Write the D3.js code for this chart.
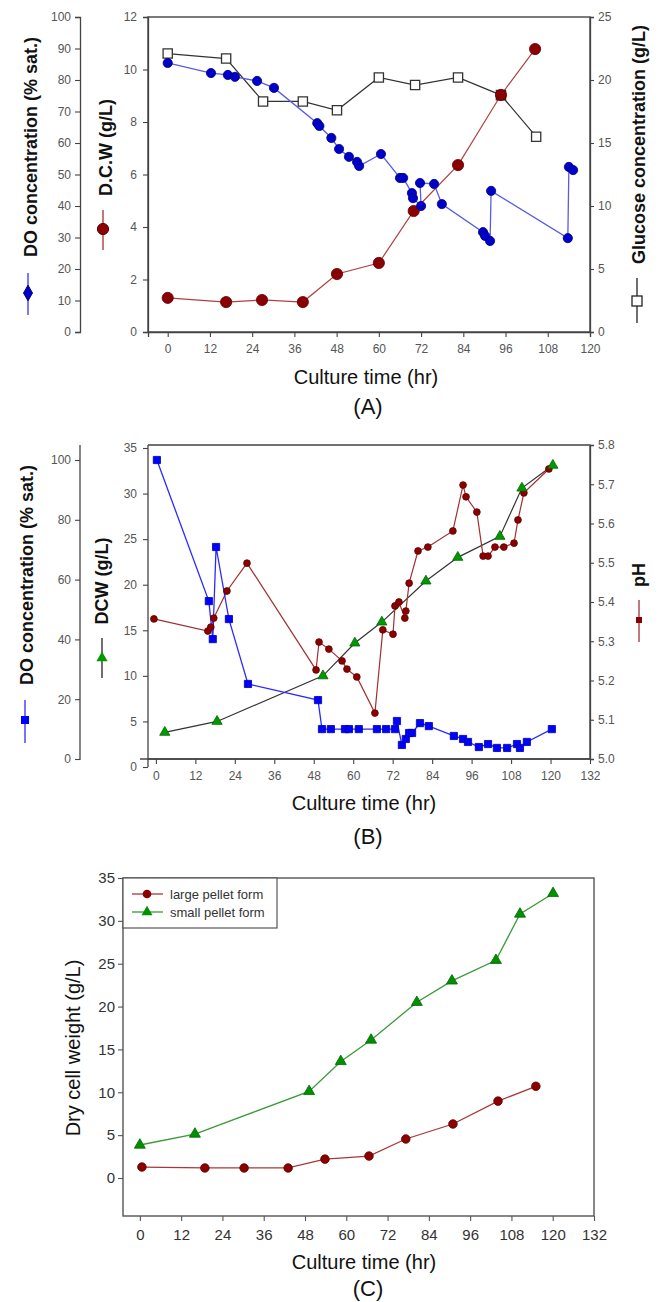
<!DOCTYPE html>
<html><head><meta charset="utf-8">
<script src="https://cdn.jsdelivr.net/npm/d3@7"></script>
<style>body{margin:0;background:#fff} svg{display:block} text{font-family:"Liberation Sans",Arial,sans-serif}</style>
</head><body><svg id="c" width="661" height="1302"></svg>
<script>
// ---------- Panel A data ----------
const aDoTime  = [0,12.3,17.1,19.1,25.4,30.2,42.5,43.1,46.5,48.7,51.5,53.8,54.4,60.6,66.0,66.9,69.4,69.7,72.0,71.7,75.7,77.9,89.6,90.2,91.6,91.9,113.7,114.0,115.2];
const aDoValue = [85.4,82.2,81.6,81.0,79.7,77.5,66.3,65.4,61.6,58.1,55.6,54.0,52.7,56.5,48.9,48.9,44.1,42.5,40.0,47.3,47.0,40.6,31.7,30.5,28.9,44.8,29.8,52.4,51.4];
const aDcwTime  = [0,16.6,26.8,38.4,48.1,60.0,69.9,82.5,94.7,104.4];
const aDcwValue = [1.30,1.14,1.22,1.14,2.21,2.63,4.61,6.36,9.03,10.78];
const aGluTime  = [0,16.6,27.1,38.4,48.1,60.0,70.3,82.5,94.7,104.7];
const aGluValue = [22.1,21.7,18.3,18.3,17.6,20.2,19.6,20.2,18.8,15.5];
const aTimeTicks = [0,12,24,36,48,60,72,84,96,108,120];
const aDoTicks = [0,10,20,30,40,50,60,70,80,90,100];
const aDcwTicks = [0,2,4,6,8,10,12];
const aGluTicks = [0,5,10,15,20,25];

// ---------- Panel B data ----------
const bDoTime  = [0.3,16.1,17.3,18.3,22.2,28.0,49.3,50.5,53.2,57.5,58.7,61.7,67.2,70.0,72.7,73.3,74.8,76.0,77.0,77.9,80.3,83.0,90.6,93.4,94.9,98.2,101.0,103.7,106.8,109.8,110.7,112.8,120.4];
const bDoValue = [100,52.8,40.1,70.9,46.8,25.1,19.7,10,10,10,10,10,10,10,10,12.7,4.7,6.7,8.7,8.7,12,11,7.7,6.7,5.7,4,5,3.7,3.7,5,3.7,5.7,10];
const bPhTime  = [-0.6,15.8,16.7,17.6,21.6,27.7,48.7,49.6,52.6,56.6,58.1,61.1,66.6,69.0,72.1,72.7,73.9,75.7,76.0,77.0,79.7,82.7,90.3,93.4,94.3,97.6,99.5,101.0,103.1,105.8,108.9,110.1,111.9,119.5];
const bPhValue = [5.357,5.326,5.336,5.359,5.428,5.499,5.227,5.298,5.280,5.250,5.229,5.209,5.117,5.329,5.318,5.390,5.400,5.359,5.377,5.448,5.530,5.540,5.581,5.698,5.668,5.629,5.517,5.517,5.540,5.540,5.550,5.609,5.678,5.739];
const bDcwTime  = [2.7,18.6,50.8,60.5,68.7,82.1,91.8,104.6,111.3,120.7];
const bDcwValue = [3.8,5.0,10.0,13.6,15.9,20.4,23.0,25.3,30.6,33.1];
const bTimeTicks = [0,12,24,36,48,60,72,84,96,108,120,132];
const bDoTicks = [0,20,40,60,80,100];
const bDcwTicks = [0,5,10,15,20,25,30,35];
const bPhTicks = [5.0,5.1,5.2,5.3,5.4,5.5,5.6,5.7,5.8];

// ---------- Panel C data ----------
const cLargeTime  = [0.6,18.9,30.3,43.1,53.8,66.6,77.3,91.0,104.1,115.1];
const cLargeValue = [1.28,1.17,1.17,1.17,2.2,2.56,4.55,6.3,8.97,10.7];
const cSmallTime  = [0,16.0,49.2,58.4,67.2,80.5,90.7,103.5,110.5,120.1];
const cSmallValue = [3.85,5.13,10.1,13.6,16.1,20.5,23.0,25.4,30.8,33.2];
const cTimeTicks = [0,12,24,36,48,60,72,84,96,108,120,132];
const cDcwTicks = [0,5,10,15,20,25,30,35];
const cLegend = ["large pellet form","small pellet form"];

const svg = d3.select("#c");
const zip = (t,v) => t.map((x,i)=>[x,v[i]]);

function styleAxis(g, size, color, stroke){
  g.selectAll("path").attr("stroke", stroke||"#444").attr("stroke-width",1.3);
  g.selectAll("line").attr("stroke", stroke||"#444").attr("stroke-width",1.1);
  g.selectAll("text").attr("fill", color).style("font-size", size+"px").style("font-family",'"Liberation Sans",Arial,sans-serif');
}
function vtitle(x, y, txt, size, weight){
  svg.append("text").attr("transform",`translate(${x},${y}) rotate(-90)`)
    .attr("text-anchor","middle").style("font-size",size+"px").style("font-weight",weight).attr("fill","#111").text(txt);
}
function htitle(x, y, txt, size){
  svg.append("text").attr("x",x).attr("y",y).attr("text-anchor","middle").style("font-size",size+"px").attr("fill","#111").text(txt);
}
function line(x,y,data,color,w){
  svg.append("path").datum(data).attr("fill","none").attr("stroke",color).attr("stroke-width",w||1.2)
    .attr("d", d3.line().x(d=>x(d[0])).y(d=>y(d[1])));
}
function circles(x,y,data,r,fill,stroke){
  svg.append("g").selectAll("circle").data(data).join("circle")
   .attr("cx",d=>x(d[0])).attr("cy",d=>y(d[1])).attr("r",r).attr("fill",fill).attr("stroke",stroke).attr("stroke-width",0.8);
}
function symbols(x,y,data,type,size,fill,stroke,sw){
  svg.append("g").selectAll("path").data(data).join("path")
   .attr("transform",d=>`translate(${x(d[0])},${y(d[1])})`)
   .attr("d", d3.symbol().type(type).size(size)()).attr("fill",fill).attr("stroke",stroke).attr("stroke-width",sw||0.8);
}

// ================= Panel A =================
{
  const x = d3.scaleLinear().domain([-5.6,120]).range([148,590]);
  const yDo = d3.scaleLinear().domain([0,100]).range([332,17]);
  const yDcw = d3.scaleLinear().domain([0,12]).range([332,17]);
  const yGlu = d3.scaleLinear().domain([0,25]).range([332,17]);
  svg.append("rect").attr("x",148).attr("y",17).attr("width",442).attr("height",315).attr("fill","none").attr("stroke","#444").attr("stroke-width",1.4);
  styleAxis(svg.append("g").attr("transform","translate(80,0)").call(d3.axisLeft(yDo).tickValues(aDoTicks).tickSizeOuter(0).tickSize(5).tickPadding(4)),12,"#555");
  styleAxis(svg.append("g").attr("transform","translate(148,0)").call(d3.axisLeft(yDcw).tickValues(aDcwTicks).tickSizeOuter(0).tickSize(5).tickPadding(6)),12,"#555");
  styleAxis(svg.append("g").attr("transform","translate(590,0)").call(d3.axisRight(yGlu).tickValues(aGluTicks).tickSizeOuter(0).tickSize(4).tickPadding(4)),12,"#555");
  styleAxis(svg.append("g").attr("transform","translate(0,332)").call(d3.axisBottom(x).tickValues(aTimeTicks).tickSizeOuter(0).tickSize(5).tickPadding(7)),12,"#555");

  line(x,yGlu,zip(aGluTime,aGluValue),"#333",1.2);
  line(x,yDcw,zip(aDcwTime,aDcwValue),"#b04040",1.2);
  line(x,yDo,zip(aDoTime,aDoValue),"#5a5ae6",1.3);
  symbols(x,yGlu,zip(aGluTime,aGluValue),d3.symbolSquare,85,"#fff","#333",1.3);
  circles(x,yDcw,zip(aDcwTime,aDcwValue),5.6,"#8b0000","#5a0000");
  circles(x,yDo,zip(aDoTime,aDoValue),4.6,"#0000cc","#000070");

  vtitle(37,147,"DO concentration (% sat.)",18,"bold");
  svg.append("line").attr("x1",28).attr("x2",28).attr("y1",273).attr("y2",315).attr("stroke","#3333ee").attr("stroke-width",1.3);
  svg.append("path").attr("transform","translate(28,293)").attr("d",d3.symbol().type(d3.symbolDiamond).size(70)()).attr("fill","#0000cc").attr("stroke","#000070");
  vtitle(112,147.5,"D.C.W (g/L)",18,"bold");
  svg.append("line").attr("x1",103).attr("x2",103).attr("y1",210).attr("y2",250).attr("stroke","#a03030").attr("stroke-width",1.3);
  svg.append("circle").attr("cx",103).attr("cy",229).attr("r",5.6).attr("fill","#8b0000").attr("stroke","#5a0000");
  vtitle(645,144.5,"Glucose concentration (g/L)",18,"bold");
  svg.append("line").attr("x1",637).attr("x2",637).attr("y1",278).attr("y2",323).attr("stroke","#222").attr("stroke-width",1.3);
  svg.append("rect").attr("x",632).attr("y",296).attr("width",10).attr("height",10).attr("fill","#fff").attr("stroke","#222").attr("stroke-width",1.3);

  htitle(366,384,"Culture time (hr)",20);
  htitle(368,414,"(A)",22);
}

// ================= Panel B =================
{
  const x = d3.scaleLinear().domain([-2.4,132]).range([148,590]);
  const yDo = d3.scaleLinear().domain([0,100]).range([759,460]);
  const yDcw = d3.scaleLinear().domain([0,35]).range([767,448]);
  const yPh = d3.scaleLinear().domain([5.0,5.8]).range([759,445]);
  svg.append("path").attr("d","M148,445H590V759H148").attr("fill","none").attr("stroke","#444").attr("stroke-width",1.4);
  const gdo = svg.append("g").attr("transform","translate(80,0)").call(d3.axisLeft(yDo).tickValues(bDoTicks).tickSizeOuter(0).tickSize(5).tickPadding(4));
  gdo.select("path").attr("d","M0,445V760");
  styleAxis(gdo,12,"#555");
  const gdc = svg.append("g").attr("transform","translate(148,0)").call(d3.axisLeft(yDcw).tickValues(bDcwTicks).tickSizeOuter(0).tickSize(5).tickPadding(6));
  gdc.select("path").attr("d","M0,445V767");
  styleAxis(gdc,12,"#555");
  styleAxis(svg.append("g").attr("transform","translate(590,0)").call(d3.axisRight(yPh).tickValues(bPhTicks).tickFormat(d3.format(".1f")).tickSizeOuter(0).tickSize(4).tickPadding(4)),12,"#555");
  const gx = svg.append("g").attr("transform","translate(0,759)").call(d3.axisBottom(x).tickValues(bTimeTicks).tickSizeOuter(0).tickSize(5).tickPadding(7));
  gx.select("path").attr("d","M140,0H590");
  styleAxis(gx,12,"#555");

  line(x,yDcw,zip(bDcwTime,bDcwValue),"#333",1.2);
  line(x,yPh,zip(bPhTime,bPhValue),"#a03030",1.2);
  line(x,yDo,zip(bDoTime,bDoValue),"#2a2aff",1.3);
  symbols(x,yDo,zip(bDoTime,bDoValue),d3.symbolSquare,52,"#0000ff","#0000aa");
  circles(x,yPh,zip(bPhTime,bPhValue),3.4,"#8b0000","#600000");
  symbols(x,yDcw,zip(bDcwTime,bDcwValue),d3.symbolTriangle,45,"#009900","#006600");

  vtitle(33,575,"DO concentration (% sat.)",18,"bold");
  svg.append("line").attr("x1",25).attr("x2",25).attr("y1",700).attr("y2",743).attr("stroke","#2a2aff").attr("stroke-width",1.3);
  svg.append("rect").attr("x",21).attr("y",716).attr("width",8).attr("height",8).attr("fill","#0000ff");
  vtitle(108,581,"DCW (g/L)",18,"bold");
  svg.append("line").attr("x1",102).attr("x2",102).attr("y1",638).attr("y2",678).attr("stroke","#222").attr("stroke-width",1.3);
  svg.append("path").attr("transform","translate(102,658)").attr("d",d3.symbol().type(d3.symbolTriangle).size(55)()).attr("fill","#009900");
  vtitle(645,575,"pH",18,"bold");
  svg.append("line").attr("x1",639).attr("x2",639).attr("y1",600).attr("y2",642).attr("stroke","#a03030").attr("stroke-width",1.3);
  svg.append("rect").attr("x",636).attr("y",617).attr("width",6).attr("height",6).attr("fill","#8b0000");

  htitle(364,810,"Culture time (hr)",20);
  htitle(368,844,"(B)",22);
}

// ================= Panel C =================
{
  const x = d3.scaleLinear().domain([-4.9,132]).range([123,594]);
  const y = d3.scaleLinear().domain([0,35]).range([1178,878]);
  svg.append("rect").attr("x",123).attr("y",878).attr("width",471).attr("height",338).attr("fill","none").attr("stroke","#555").attr("stroke-width",1.4);
  const gy = svg.append("g").attr("transform","translate(123,0)").call(d3.axisLeft(y).tickValues(cDcwTicks).tickSizeOuter(0).tickSize(5).tickPadding(3));
  gy.select("path").remove();
  styleAxis(gy,15,"#333","#555");
  const gx = svg.append("g").attr("transform","translate(0,1216)").call(d3.axisBottom(x).tickValues(cTimeTicks).tickSizeOuter(0).tickSize(5).tickPadding(8));
  gx.select("path").remove();
  styleAxis(gx,15,"#333","#555");

  line(x,y,zip(cSmallTime,cSmallValue),"#3a9a3a",1.3);
  line(x,y,zip(cLargeTime,cLargeValue),"#a83838",1.3);
  symbols(x,y,zip(cSmallTime,cSmallValue),d3.symbolTriangle,52,"#009000","#006600");
  circles(x,y,zip(cLargeTime,cLargeValue),4.3,"#8b0000","#600000");

  // legend
  svg.append("rect").attr("x",123).attr("y",878).attr("width",154).attr("height",50).attr("fill","#fff").attr("stroke","#555").attr("stroke-width",1.2);
  const leg = [[894,"#a83838"],[912,"#3a9a3a"]];
  leg.forEach((l,i)=>{
    svg.append("line").attr("x1",132).attr("x2",163).attr("y1",l[0]).attr("y2",l[0]).attr("stroke",l[1]).attr("stroke-width",1.3);
    if(i===0) svg.append("circle").attr("cx",147).attr("cy",l[0]).attr("r",4.3).attr("fill","#8b0000");
    else svg.append("path").attr("transform",`translate(147,${l[0]})`).attr("d",d3.symbol().type(d3.symbolTriangle).size(52)()).attr("fill","#009000");
    svg.append("text").attr("x",170).attr("y",l[0]+4.5).style("font-size","13px").attr("fill","#333").text(cLegend[i]);
  });

  vtitle(80,1048,"Dry cell weight (g/L)",20,"normal");
  htitle(364,1269,"Culture time (hr)",20);
  htitle(368,1296,"(C)",22);
}
</script></body></html>
